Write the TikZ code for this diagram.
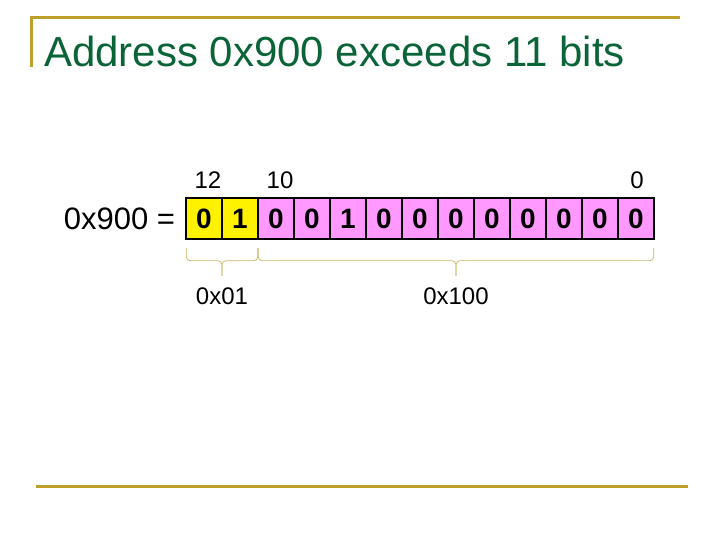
\documentclass[tikz,border=0pt]{standalone}
\usepackage{fontspec}
\setmainfont{Liberation Sans}
\usetikzlibrary{positioning,calc}
\definecolor{titlegreen}{RGB}{10,100,55}
\definecolor{rulegold}{RGB}{190,160,40}
\definecolor{bracegold}{RGB}{205,185,110}
\definecolor{bitpink}{RGB}{255,153,255}

\begin{document}
\begin{tikzpicture}[x=1pt,y=-1pt,
bit/.style={rectangle,draw=black,line width=1.5pt,minimum width=36pt,
  minimum height=41pt,inner sep=0pt,font=\fontsize{28}{28}\selectfont\bfseries},
hibit/.style={bit,fill=yellow},
lobit/.style={bit,fill=bitpink},
idx/.style={inner sep=0pt,font=\fontsize{24}{24}\selectfont},
rule/.style={draw=rulegold,line width=3pt},
brace/.style={draw=bracegold,line width=0.8pt,rounded corners=4pt}]
\useasboundingbox (0,0) rectangle (720,540);
% slide frame
\draw[rule] (31,67) -- (31,18) -- (680,18);
\draw[rule] (36,486) -- (688,486);
\node[anchor=base west,inner sep=0pt,text=titlegreen,
  font=\fontsize{42}{48}\selectfont] (title) at (44,67) {Address 0x900 exceeds 11 bits};
% the 13 bits
\node[hibit] (A12) at (204,218.5) {0};
\node[hibit] (A11) at (240,218.5) {1};
\node[lobit] (A10) at (276,218.5) {0};
\node[lobit] (A9) at (312,218.5) {0};
\node[lobit] (A8) at (348,218.5) {1};
\node[lobit] (A7) at (384,218.5) {0};
\node[lobit] (A6) at (420,218.5) {0};
\node[lobit] (A5) at (456,218.5) {0};
\node[lobit] (A4) at (492,218.5) {0};
\node[lobit] (A3) at (528,218.5) {0};
\node[lobit] (A2) at (564,218.5) {0};
\node[lobit] (A1) at (600,218.5) {0};
\node[lobit] (A0) at (636,218.5) {0};
\node[inner sep=0pt,font=\fontsize{31}{31}\selectfont,left=10pt of A12] (lhs) {0x900 =};
% bit positions
\node[idx] (L12) at (208,180) {12};
\node[idx] (L10) at (280,180) {10};
\node[idx] (L0) at (637,180) {0};
% braces
\coordinate (p1) at ($(A12.south west)+(1,8)$);
\coordinate (p2) at ($(A11.south east)+(-1,8)$);
\coordinate (m1) at ($(p1)!0.5!(p2)+(0,28)$);
\coordinate (p3) at ($(A10.south west)+(1,8)$);
\coordinate (p4) at ($(A0.south east)+(-1,8)$);
\coordinate (m2) at ($(p3)!0.5!(p4)+(0,28)$);
\draw[brace] (p1) |- ($(m1)+(0,-15)$) -- (m1);
\draw[brace] (p2) |- ($(m1)+(0,-15)$) -- (m1);
\draw[brace] (p3) |- ($(m2)+(0,-15)$) -- (m2);
\draw[brace] (p4) |- ($(m2)+(0,-15)$) -- (m2);
\node[idx,below=12pt of m1] (V1) {0x01};
\node[idx,below=12pt of m2] (V2) {0x100};
\end{tikzpicture}
\end{document}
